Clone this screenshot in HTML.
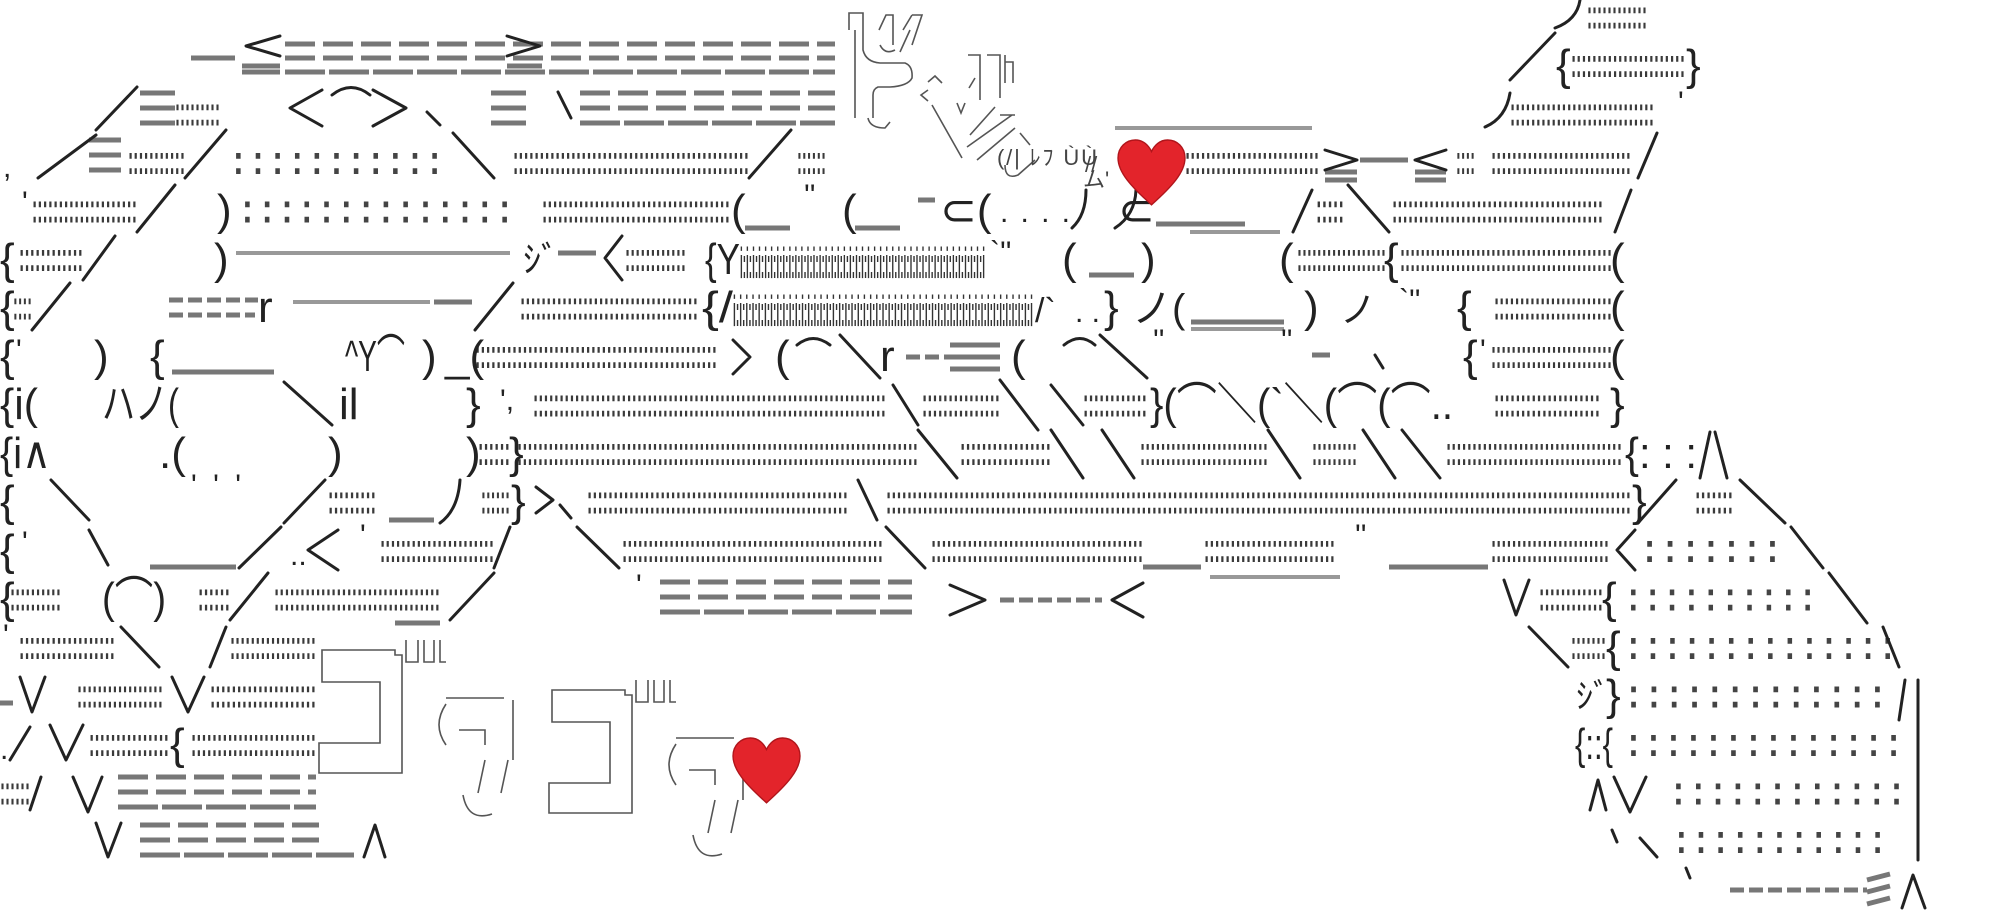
<!DOCTYPE html>
<html><head><meta charset="utf-8"><style>
html,body{margin:0;padding:0;background:#fff;}
svg{display:block}
.d{font-family:"Liberation Sans",sans-serif;font-size:42px;font-weight:bold;fill:#3a3a3a}
.sp{font-family:"Liberation Sans",sans-serif;font-size:42px;font-weight:bold;fill:#444}
.i{font-family:"Liberation Sans",sans-serif;font-size:44px;font-weight:bold;fill:#333}
.g{font-family:"Liberation Sans","DejaVu Sans","Noto Sans CJK JP",sans-serif;font-size:44px;fill:#222}
.sm{font-family:"Liberation Sans","Noto Sans CJK JP",sans-serif;font-size:22px;fill:#444}
.s{stroke:#222;stroke-width:3;fill:none;stroke-linecap:round;stroke-linejoin:round}
.b{stroke:#777;stroke-width:5;fill:none}
.bl{stroke:#999;stroke-width:4;fill:none}
.t{stroke:#555;stroke-width:1.6;fill:none}
</style></head><body>
<svg width="2000" height="920" xmlns="http://www.w3.org/2000/svg">
<g>
<text class="d" x="1587" y="28.5" textLength="60" lengthAdjust="spacingAndGlyphs">::::::::::::</text>
<text class="d" x="1571" y="77" textLength="114" lengthAdjust="spacingAndGlyphs">::::::::::::::::::::::</text>
<text class="d" x="175" y="125.5" textLength="45" lengthAdjust="spacingAndGlyphs">:::::::::</text>
<text class="d" x="1510" y="125.5" textLength="144" lengthAdjust="spacingAndGlyphs">::::::::::::::::::::::::::::</text>
<text class="d" x="128" y="174" textLength="57" lengthAdjust="spacingAndGlyphs">:::::::::::</text>
<text class="d" x="513" y="174" textLength="236" lengthAdjust="spacingAndGlyphs">:::::::::::::::::::::::::::::::::::::::::::::</text>
<text class="d" x="797" y="174" textLength="29" lengthAdjust="spacingAndGlyphs">::::::</text>
<text class="d" x="1185" y="174" textLength="134" lengthAdjust="spacingAndGlyphs">::::::::::::::::::::::::::</text>
<text class="d" x="1456" y="174" textLength="19" lengthAdjust="spacingAndGlyphs">::::</text>
<text class="d" x="1491" y="174" textLength="140" lengthAdjust="spacingAndGlyphs">:::::::::::::::::::::::::::</text>
<text class="d" x="32" y="222.5" textLength="105" lengthAdjust="spacingAndGlyphs">::::::::::::::::::::</text>
<text class="d" x="542" y="222.5" textLength="188" lengthAdjust="spacingAndGlyphs">::::::::::::::::::::::::::::::::::::</text>
<text class="d" x="1316" y="222.5" textLength="28" lengthAdjust="spacingAndGlyphs">:::::</text>
<text class="d" x="1392" y="222.5" textLength="211" lengthAdjust="spacingAndGlyphs">::::::::::::::::::::::::::::::::::::::::</text>
<text class="d" x="19" y="271" textLength="64" lengthAdjust="spacingAndGlyphs">::::::::::::</text>
<text class="d" x="625" y="271" textLength="61" lengthAdjust="spacingAndGlyphs">::::::::::::</text>
<text class="d" x="1297" y="271" textLength="89" lengthAdjust="spacingAndGlyphs">::::::::::::::::::</text>
<text class="d" x="1400" y="271" textLength="212" lengthAdjust="spacingAndGlyphs">::::::::::::::::::::::::::::::::::::::::::</text>
<text class="d" x="13" y="319.5" textLength="19" lengthAdjust="spacingAndGlyphs">::::</text>
<text class="d" x="520" y="319.5" textLength="178" lengthAdjust="spacingAndGlyphs">::::::::::::::::::::::::::::::::::</text>
<text class="d" x="1494" y="319.5" textLength="118" lengthAdjust="spacingAndGlyphs">:::::::::::::::::::::::</text>
<text class="d" x="475" y="368" textLength="242" lengthAdjust="spacingAndGlyphs">::::::::::::::::::::::::::::::::::::::::::::::</text>
<text class="d" x="1491" y="368" textLength="121" lengthAdjust="spacingAndGlyphs">::::::::::::::::::::::::</text>
<text class="d" x="533" y="416.5" textLength="353" lengthAdjust="spacingAndGlyphs">::::::::::::::::::::::::::::::::::::::::::::::::::::::::::::::::::::</text>
<text class="d" x="922" y="416.5" textLength="78" lengthAdjust="spacingAndGlyphs">:::::::::::::::</text>
<text class="d" x="1083" y="416.5" textLength="64" lengthAdjust="spacingAndGlyphs">::::::::::::</text>
<text class="d" x="1494" y="416.5" textLength="106" lengthAdjust="spacingAndGlyphs">::::::::::::::::::::</text>
<text class="d" x="478" y="465" textLength="32" lengthAdjust="spacingAndGlyphs">::::::</text>
<text class="d" x="517" y="465" textLength="401" lengthAdjust="spacingAndGlyphs">:::::::::::::::::::::::::::::::::::::::::::::::::::::::::::::::::::::::::::::</text>
<text class="d" x="960" y="465" textLength="91" lengthAdjust="spacingAndGlyphs">:::::::::::::::::</text>
<text class="d" x="1140" y="465" textLength="128" lengthAdjust="spacingAndGlyphs">:::::::::::::::::::::::::</text>
<text class="d" x="1312" y="465" textLength="45" lengthAdjust="spacingAndGlyphs">:::::::::</text>
<text class="d" x="1446" y="465" textLength="176" lengthAdjust="spacingAndGlyphs">::::::::::::::::::::::::::::::::::</text>
<text class="d" x="328" y="513.5" textLength="48" lengthAdjust="spacingAndGlyphs">:::::::::</text>
<text class="d" x="481" y="513.5" textLength="29" lengthAdjust="spacingAndGlyphs">::::::</text>
<text class="d" x="587" y="513.5" textLength="261" lengthAdjust="spacingAndGlyphs">::::::::::::::::::::::::::::::::::::::::::::::::::</text>
<text class="d" x="886" y="513.5" textLength="745" lengthAdjust="spacingAndGlyphs">:::::::::::::::::::::::::::::::::::::::::::::::::::::::::::::::::::::::::::::::::::::::::::::::::::::::::::::::::::::::::::::::::::::::::::::::</text>
<text class="d" x="1695" y="513.5" textLength="38" lengthAdjust="spacingAndGlyphs">:::::::</text>
<text class="d" x="380" y="562" textLength="114" lengthAdjust="spacingAndGlyphs">::::::::::::::::::::::</text>
<text class="d" x="622" y="562" textLength="261" lengthAdjust="spacingAndGlyphs">::::::::::::::::::::::::::::::::::::::::::::::::::</text>
<text class="d" x="931" y="562" textLength="212" lengthAdjust="spacingAndGlyphs">:::::::::::::::::::::::::::::::::::::::::</text>
<text class="d" x="1204" y="562" textLength="131" lengthAdjust="spacingAndGlyphs">:::::::::::::::::::::::::</text>
<text class="d" x="1491" y="562" textLength="118" lengthAdjust="spacingAndGlyphs">:::::::::::::::::::::::</text>
<text class="d" x="10" y="610.5" textLength="51" lengthAdjust="spacingAndGlyphs">::::::::::</text>
<text class="d" x="198" y="610.5" textLength="32" lengthAdjust="spacingAndGlyphs">::::::</text>
<text class="d" x="274" y="610.5" textLength="166" lengthAdjust="spacingAndGlyphs">::::::::::::::::::::::::::::::::</text>
<text class="d" x="1539" y="610.5" textLength="64" lengthAdjust="spacingAndGlyphs">::::::::::::</text>
<text class="d" x="19" y="659" textLength="96" lengthAdjust="spacingAndGlyphs">::::::::::::::::::</text>
<text class="d" x="230" y="659" textLength="86" lengthAdjust="spacingAndGlyphs">:::::::::::::::::</text>
<text class="d" x="1571" y="659" textLength="35" lengthAdjust="spacingAndGlyphs">:::::::</text>
<text class="d" x="77" y="707.5" textLength="86" lengthAdjust="spacingAndGlyphs">:::::::::::::::::</text>
<text class="d" x="210" y="707.5" textLength="106" lengthAdjust="spacingAndGlyphs">::::::::::::::::::::</text>
<text class="d" x="89" y="756" textLength="80" lengthAdjust="spacingAndGlyphs">:::::::::::::::</text>
<text class="d" x="191" y="756" textLength="125" lengthAdjust="spacingAndGlyphs">::::::::::::::::::::::::</text>
<text class="d" x="0" y="804.5" textLength="30" lengthAdjust="spacingAndGlyphs">::::::</text>
<text class="sp" x="233" y="174" textLength="207" lengthAdjust="spacingAndGlyphs">: : : : : : : : : : :</text>
<text class="sp" x="242" y="222.5" textLength="268" lengthAdjust="spacingAndGlyphs">: : : : : : : : : : : : : :</text>
<text class="sp" x="1644" y="562" textLength="134" lengthAdjust="spacingAndGlyphs">: : : : : : :</text>
<text class="sp" x="1628" y="610.5" textLength="185" lengthAdjust="spacingAndGlyphs">: : : : : : : : : :</text>
<text class="sp" x="1628" y="659" textLength="265" lengthAdjust="spacingAndGlyphs">: : : : : : : : : : : : : :</text>
<text class="sp" x="1628" y="707.5" textLength="255" lengthAdjust="spacingAndGlyphs">: : : : : : : : : : : : :</text>
<text class="sp" x="1628" y="756" textLength="271" lengthAdjust="spacingAndGlyphs">: : : : : : : : : : : : : :</text>
<text class="sp" x="1673" y="804.5" textLength="229" lengthAdjust="spacingAndGlyphs">: : : : : : : : : : : :</text>
<text class="sp" x="1676" y="853" textLength="207" lengthAdjust="spacingAndGlyphs">: : : : : : : : : : :</text>
<text class="i" x="740" y="278" textLength="245" lengthAdjust="spacingAndGlyphs">i:i:i:i:i:i:i:i:i:i:i:i:i:i:i:i:i:i:i:i:i:i:i:i:i:i:i:i:i:i:i:i:i:i:i:i:i:i:i:i:i</text>
<text class="i" x="733" y="326" textLength="300" lengthAdjust="spacingAndGlyphs">i:i:i:i:i:i:i:i:i:i:i:i:i:i:i:i:i:i:i:i:i:i:i:i:i:i:i:i:i:i:i:i:i:i:i:i:i:i:i:i:i:i:i:i:i:i:i:i:i</text>
</g>
<path class="b" d="M191,58 H235 M1360,160 H1408 M745,228 H790 M855,228 H900 M918,200 H935 M1156,224 H1245 M558,253 H596 M1089,275 H1134 M434,302 H472 M1191,322 H1284 M172,372 H274 M1312,355 H1330 M389,520 H434 M150,567 H236 M1143,567 H1201 M1389,567 H1488 M395,623 H440 M0,703 H13 M140,93 H175 M140,108 H175 M140,123 H175 M491,93 H526 M491,108 H526 M491,123 H526 M89,140 H121 M89,155 H121 M89,170 H121 M950,345 H1000 M950,357 H1000 M950,369 H1000 M1325,172 H1357 M1325,180 H1357 M1415,172 H1446 M1415,180 H1446 M242,66 H280 M242,72 H280 M507,66 H542 M507,72 H542 M1867,880 L1890,874 M1867,892 L1890,886 M1867,904 L1890,898"/>
<path class="b" stroke-dasharray="30 8" d="M285,44 H835 M285,58 H835 M580,93 H835 M580,108 H835 M660,582 H912 M660,597 H912 M118,777 H316 M118,792 H316 M140,825 H319 M140,840 H319"/>
<path class="b" stroke-dasharray="40 4" d="M285,72 H835 M580,123 H835 M660,612 H912 M118,807 H316 M140,855 H354"/>
<path class="b" stroke-dasharray="14 5" d="M169,300 H258 M169,315 H255 M906,357 H950 M1000,600 H1102 M1730,890 H1867"/>
<path class="bl" d="M1115,128 H1312 M236,253 H510 M293,302 H430 M1190,232 H1280 M1210,577 H1340 M1191,329 H1284"/>
<path class="s" d="M280,36 L246,46 L280,56 M507,36 L540,46 L507,56 M1325,150 L1357,160 L1325,170 M1446,150 L1415,160 L1446,170
M137,87 L96,130 M96,135 L38,178 M226,130 L185,178 M453,133 L494,178 M791,130 L749,178 M1657,133 L1638,178
M175,185 L137,232 M1312,190 L1293,232 M1348,185 L1389,232 M1631,190 L1615,232 M115,236 L83,280 M70,283 L32,330 M513,283 L475,330
M840,335 L880,378 M1100,335 L1147,378 M284,382 L332,425 M893,385 L918,425 M1000,380 L1038,430 M1051,385 L1083,425
M918,430 L957,478 M1051,430 L1083,478 M1102,430 L1134,478 M1268,430 L1300,478 M1363,430 L1395,478 M1402,430 L1440,478
M1676,480 L1638,523 M1740,480 L1785,523 M1791,527 L1823,568 M1829,573 L1867,623 M1883,627 L1899,667
M51,480 L89,520 M325,480 L284,523 M858,480 L877,520 M89,530 L108,565 M281,527 L239,568 M510,527 L494,568 M577,527 L619,568 M886,527 L925,568
M268,573 L230,620 M494,573 L450,620 M121,627 L159,667 M226,627 L210,667 M1529,627 L1568,667 M41,777 L30,810 M30,727 L10,760 M1640,838 L1657,857
M622,236 L605,258 L622,280 M322,90 L290,108 L322,126 M373,90 L406,108 L373,126 M558,92 L571,118 M427,112 L440,125
M338,530 L308,550 L338,570 M1635,530 L1617,550 L1635,570 M950,585 L985,600 L950,615 M1143,583 L1112,600 L1143,617
M1504,580 L1516,615 L1529,580 M20,677 L32,712 L45,677 M172,677 L188,712 L204,677 M50,725 L66,760 L83,725 M73,777 L88,812 L102,777 M96,823 L108,857 L121,823 M1614,777 L1630,812 L1646,777
M1590,810 L1598,780 L1606,810 M1902,908 L1913,875 L1925,908 M364,857 L375,825 L385,857 M1700,478 L1710,432 M1715,432 L1727,478
M1899,720 L1905,680 M1918,680 V860 M1580,0 Q1577,20 1555,28 M1510,93 Q1506,118 1485,127 M1555,33 L1510,80 M460,480 Q458,510 440,523
M536,487 L553,500 L536,513 M560,505 L571,518 M733,340 L750,357 L733,374 M1136,190 Q1135,215 1115,228 M1086,190 Q1086,215 1072,228
M332,95 Q351,80 370,95 M797,345 Q813,332 830,345 M1064,345 Q1080,332 1095,345 M1375,355 L1383,368 M1612,830 L1617,842 M1686,868 L1690,878"/>
<g class="g">
<text x="1556" y="80">{</text><text x="1686" y="80">}</text>
<text x="1678" y="112" font-size="30">'</text>
<text x="3" y="177" font-size="30">,</text>
<text x="22" y="212" font-size="30">'</text>
<text x="217" y="225">)</text><text x="731" y="225">(</text><text x="804" y="205" font-size="30">''</text><text x="842" y="225">(</text>
<text x="940" y="225">⊂(</text><text x="1000" y="222" font-size="30" textLength="70" lengthAdjust="spacing">. . . .</text><text x="1118" y="225">⊂</text>
<text x="0" y="274">{</text><text x="214" y="274">)</text><text x="523" y="272" font-family="'Liberation Sans','Noto Sans CJK JP',sans-serif" font-size="36">ｼﾞ</text>
<text x="705" y="274" textLength="35" lengthAdjust="spacingAndGlyphs">{Y</text><text x="990" y="262" font-size="30">`''</text>
<text x="1062" y="274">(</text><text x="1141" y="274">)</text><text x="1279" y="274">(</text><text x="1384" y="274">{</text><text x="1610" y="274">(</text>
<text x="0" y="322">{</text><text x="258" y="322">r</text><text x="702" y="322" textLength="31" lengthAdjust="spacingAndGlyphs">{/</text>
<text x="1035" y="322" font-size="34">/`</text><text x="1075" y="322" font-size="30">. .</text><text x="1104" y="322">}</text>
<text x="1132" y="322" font-family="'Liberation Sans','Noto Sans CJK JP',sans-serif" font-size="40">ノ(</text><text x="1304" y="322">)</text>
<text x="1340" y="322" font-family="'Liberation Sans','Noto Sans CJK JP',sans-serif" font-size="36">ノ</text><text x="1399" y="310" font-size="30">`''</text><text x="1457" y="322">{</text><text x="1610" y="322">(</text>
<text x="0" y="371">{</text><text x="16" y="360" font-size="30">'</text><text x="94" y="371">)</text><text x="150" y="371">{</text>
<text x="345" y="371" textLength="60" lengthAdjust="spacingAndGlyphs">^Y⌒</text><text x="422" y="371">)</text><text x="445" y="371">_(</text>
<text x="775" y="371">(</text><text x="880" y="371">r</text><text x="1011" y="371">(</text><text x="1153" y="350" font-size="30">''</text><text x="1281" y="350" font-size="30">''</text>
<text x="1463" y="371">{</text><text x="1480" y="360" font-size="30">'</text><text x="1610" y="371">(</text>
<text x="0" y="419" textLength="38" lengthAdjust="spacingAndGlyphs">{i(</text>
<text x="102" y="419" textLength="77" lengthAdjust="spacingAndGlyphs" font-family="'Liberation Sans','Noto Sans CJK JP',sans-serif">ハノ(</text>
<text x="339" y="419">il</text><text x="466" y="419">}</text><text x="500" y="410" font-size="30">',</text>
<text x="1150" y="419" textLength="303" lengthAdjust="spacingAndGlyphs" font-family="'Liberation Sans','Noto Sans CJK JP',sans-serif">}(⌒＼(`＼(⌒(⌒..</text><text x="1610" y="419">}</text>
<text x="0" y="468" textLength="51" lengthAdjust="spacingAndGlyphs">{i∧</text><text x="159" y="468">.(</text><text x="328" y="468">)</text><text x="466" y="468">)</text><text x="509" y="468">}</text>
<text x="1625" y="468" textLength="72" lengthAdjust="spacingAndGlyphs">{: : :</text>
<text x="0" y="516">{</text><text x="191" y="495" font-size="30" textLength="50" lengthAdjust="spacing">'''</text><text x="511" y="516">}</text><text x="1632" y="516">}</text>
<text x="0" y="565">{</text><text x="22" y="552" font-size="30">'</text><text x="290" y="565" font-size="30">..</text><text x="360" y="545" font-size="30">'</text><text x="1355" y="545" font-size="30">''</text>
<text x="0" y="613">{</text><text x="102" y="613" textLength="64" lengthAdjust="spacingAndGlyphs">(⌒)</text><text x="636" y="595" font-size="30">'</text><text x="1602" y="613">{</text>
<text x="3" y="645" font-size="30">'</text><text x="1606" y="662">{</text>
<text x="1576" y="708" font-family="'Liberation Sans','Noto Sans CJK JP',sans-serif" font-size="34">ｼﾞ</text><text x="1606" y="710">}</text>
<text x="0" y="759" font-size="30">.</text><text x="170" y="759">{</text><text x="1575" y="759" textLength="38" lengthAdjust="spacingAndGlyphs">{::{</text>
</g>
<g class="t">
<path d="M322,650 H395 V655 H402 V773 H319 V743 H380 V682 H322 Z M406,640 V662 H418 V640 M424,640 V662 H434 V640 M440,640 V662 H446 M446,698 H504 M513,700 V760 M446,704 Q432,725 446,745 M459,730 H485 V745 M485,760 L478,793 M508,760 L501,793 M463,795 Q468,822 492,814"/>
</g>
<g class="t" transform="translate(230,40)">
<path d="M322,650 H395 V655 H402 V773 H319 V743 H380 V682 H322 Z M406,640 V662 H418 V640 M424,640 V662 H434 V640 M440,640 V662 H446 M446,698 H504 M513,700 V760 M446,704 Q432,725 446,745 M459,730 H485 V745 M485,760 L478,793 M508,760 L501,793 M463,795 Q468,822 492,814"/>
</g>
<g class="t">
<path d="M849,30 V13 H863 V50 Q866,62 880,63 H905 Q913,66 912,78 Q908,86 890,87 H878 Q873,89 873,95 V118 M855,30 V118 M868,118 Q870,128 885,128 L890,122
M879,30 L886,15 H893 V45 M880,45 Q885,55 895,50 M903,30 L912,15 M912,15 H922 L912,45 M900,52 L910,30
M928,82 L935,76 L942,83 M928,90 L921,95 L928,101 M932,105 L962,158 M957,103 L961,113 L965,103
M969,88 L975,78 M980,78 V100 M1000,80 V98 M968,55 H980 V83 M987,55 H1000 V83 M1005,55 V83 M1005,62 H1013 V83
M970,135 L995,107 M967,147 L1012,115 M977,160 L1015,128 M1000,115 H1015 M1020,133 L1030,145 M1005,165 Q1005,180 1018,175 L1035,160"/>
</g>
<text class="sm" x="997" y="165" textLength="100" lengthAdjust="spacing">(/| ﾚﾌ ÙÙ</text>
<text class="sm" x="1085" y="172" font-size="16">//</text>
<text class="sm" x="1083" y="187" font-size="14">ム'</text>
<path transform="translate(1118,140) scale(0.67,0.72)" fill="#e3242b" stroke="#b0151b" stroke-width="2" d="M50,90 C20,65 0,45 0,25 C0,10 12,0 26,0 C38,0 46,8 50,16 C54,8 62,0 74,0 C88,0 100,10 100,25 C100,45 80,65 50,90Z"/>
<path transform="translate(733,738) scale(0.67,0.72)" fill="#e3242b" stroke="#b0151b" stroke-width="2" d="M50,90 C20,65 0,45 0,25 C0,10 12,0 26,0 C38,0 46,8 50,16 C54,8 62,0 74,0 C88,0 100,10 100,25 C100,45 80,65 50,90Z"/>
</svg>
</body></html>
